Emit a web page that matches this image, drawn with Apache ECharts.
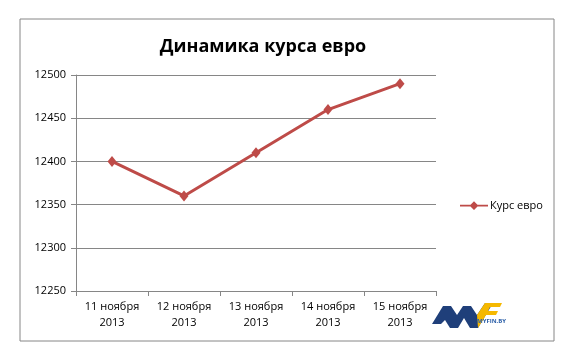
<!DOCTYPE html>
<html><head><meta charset="utf-8">
<script src="https://cdn.jsdelivr.net/npm/echarts@6/dist/echarts.min.js"></script>
<style>html,body{margin:0;padding:0;background:#fff}#c{width:580px;height:364px}</style>
</head><body><div id="c"></div>
<script>
var categories = ['11 ноября\n2013','12 ноября\n2013','13 ноября\n2013','14 ноября\n2013','15 ноября\n2013'];
var values = [12400, 12360, 12410, 12460, 12490];
var seriesName = 'Курс евро';
var titleText = 'Динамика курса евро';
var yMin = 12250, yMax = 12500, yStep = 50;

var chart = echarts.init(document.getElementById('c'));
var font = 'Open Sans, Liberation Sans, sans-serif';
chart.setOption({
  animation:false,
  backgroundColor:'#fff',
  title:{text:titleText,left:258,textAlign:'center',top:33,textStyle:{fontFamily:font,fontSize:18,fontWeight:'bold',color:'#000'}},
  legend:{data:[{name:seriesName,icon:'path://M0,4L12,4L16,0L20,4L32,4L32,6L20,6L16,10L12,6L0,6Z'}],left:455,top:195,itemWidth:28,itemHeight:9,itemGap:2,textStyle:{fontFamily:font,fontSize:11,color:'#000',padding:[0,0,0,-3]}},
  grid:{left:76,right:144,top:75,bottom:73},
  xAxis:{type:'category',data:categories,boundaryGap:true,
    axisLine:{lineStyle:{color:'#868686',width:1}},
    axisTick:{show:true,length:5,lineStyle:{color:'#868686'}},
    axisLabel:{fontFamily:font,fontSize:11,color:'#000',lineHeight:16,margin:8}},
  yAxis:{type:'value',min:yMin,max:yMax,interval:yStep,
    axisLine:{show:true,lineStyle:{color:'#868686'}},
    axisTick:{show:true,length:5,lineStyle:{color:'#868686'}},
    splitLine:{lineStyle:{color:'#868686'}},
    axisLabel:{fontFamily:font,fontSize:11,color:'#000',margin:10,formatter:function(v){return String(v);}}},
  series:[{name:seriesName,type:'line',data:values,symbol:'diamond',symbolSize:[9,11],
    lineStyle:{color:'#BE4B48',width:3},itemStyle:{color:'#BE4B48'}}],
  graphic:[
    {type:'rect',shape:{x:20,y:19,width:534,height:322},style:{fill:'none',stroke:'#868686',lineWidth:1},silent:true,z:-1},
    {type:'polygon',shape:{points:[[432,324],[443,306],[451,306],[457,315],[463,306],[471,306],[477,315],[485,303],[493,303],[478,328],[470,328],[464,318],[458,328],[450,328],[445,320],[441,324]]},style:{fill:'#1f3f7a'}},
    {type:'polygon',shape:{points:[[477,315],[485,303],[502,303],[500,307],[490,307],[488,311],[498,311],[496,315],[486,315],[478,328]]},style:{fill:'#f5b800'}},
    {type:'text',x:477,y:318,style:{text:'MYFIN.BY',font:'bold 6px '+font,fill:'#2b5fa8'}}
  ]
});
</script></body></html>
